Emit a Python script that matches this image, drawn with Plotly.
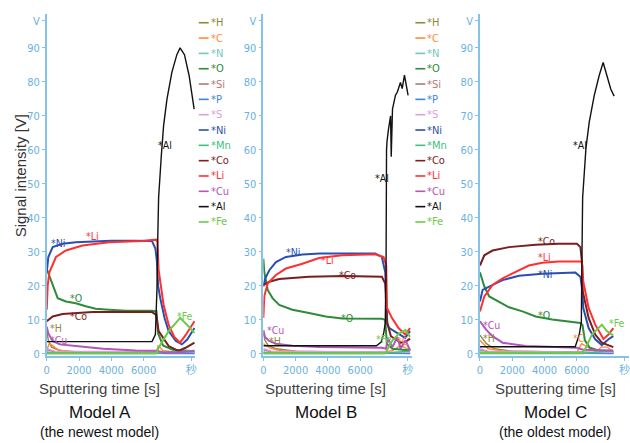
import plotly.graph_objects as go

# ---------------- data ----------------
ELEMENTS = ["H", "C", "N", "O", "Si", "P", "S", "Ni", "Mn", "Co", "Li", "Cu", "Al", "Fe"]
COLORS = ["#8c8a3c", "#ff8a3d", "#74c6c0", "#2e8b3a", "#b07a7a", "#3a86d8", "#d9a0d9",
          "#2b4fb0", "#3dbf80", "#7a1e1e", "#ff3030", "#b455b8", "#111111", "#6cc94a"]
X_TICKS = [0, 2000, 4000, 6000, 8950]
X_TICKTEXT = ["0", "2000", "4000", "6000", "秒"]
Y_TICKS = [0, 10, 20, 30, 40, 50, 60, 70, 80, 90, 98]
Y_TICKTEXT = ["0", "10", "20", "30", "40", "50", "60", "70", "80", "90", "V"]
MODELS = ["Model A", "Model B", "Model C"]
SUBTITLES = ["(the newest model)", "", "(the oldest model)"]

# ---- Model A ----
A_H_T = [0, 100, 300, 800, 2000, 6800, 9150]
A_H_V = [7, 4, 2, 1, 0.6, 0.5, 0.3]
A_C_T = [0, 150, 350, 700, 1500, 6800, 6900, 7200, 8000, 9150]
A_C_V = [1, 3, 2.5, 1.2, 0.6, 0.5, 2.5, 1, 0.5, 0.4]
A_MINOR_T = [0, 500, 6800, 7500, 9150]
A_N_V = [0.6, 0.3, 0.3, 0.2, 0.2]
A_SI_V = [1.2, 0.6, 0.5, 0.3, 0.3]
A_P_V = [0.4, 0.2, 0.2, 0.1, 0.1]
A_S_V = [1.5, 0.8, 0.6, 0.4, 0.5]
A_MN_V = [0.1, 0.1, 0.1, 0.6, 1.0]
A_O_T = [0, 370, 680, 1190, 1800, 2420, 3030, 3860, 4880, 6520, 6800, 6900, 7200, 7800, 9150]
A_O_V = [25, 20.3, 16.4, 15.4, 14.9, 14.0, 13.3, 13.0, 12.7, 12.7, 12.5, 6, 2.5, 1.2, 0.8]
A_NI_T = [0, 100, 370, 985, 1800, 2830, 4000, 5500, 6520, 6730, 6830, 6900, 7030, 7300, 7550, 8000, 8370, 8700, 9150]
A_NI_V = [24, 28.5, 31.4, 32.4, 32.8, 33.1, 33.3, 33.3, 33.2, 31, 27, 20, 16.4, 10.5, 6.7, 3.8, 2.8, 4.2, 7.6]
A_CO_T = [0, 370, 985, 2830, 6520, 6780, 6930, 7550, 8160, 8600, 9150]
A_CO_V = [9.6, 11, 11.7, 12.3, 12.3, 11.5, 6.7, 2.3, 0.9, 1.8, 3.3]
A_LI_T = [0, 60, 165, 575, 1190, 2215, 3860, 5900, 6780, 6850, 6900, 6930, 7240, 7550, 7900, 8260, 8600, 9150]
A_LI_V = [13, 20, 24, 28.5, 30.4, 31.9, 32.8, 33.2, 33.6, 33, 28, 24.6, 14.4, 8.6, 5, 3.3, 5.5, 9.6]
A_CU_T = [0, 100, 370, 800, 1800, 3500, 5500, 6800, 7200, 8000, 9150]
A_CU_V = [8, 6, 3.8, 2.8, 2.3, 1.5, 1.0, 0.9, 0.5, 0.4, 0.8]
A_AL_T = [0, 6520, 6730, 6830, 6880, 6930, 7100, 7240, 7450, 7750, 8060, 8260, 8530, 8820, 9130]
A_AL_V = [3.6, 3.6, 5.7, 19.3, 35, 46, 58.5, 67.2, 75, 82.8, 88, 90, 88, 81.8, 72]
A_FE_T = [0, 6800, 6930, 7550, 8160, 8260, 8700, 9150]
A_FE_V = [0.2, 0.2, 1.8, 6.7, 10, 10.6, 8.5, 6.2]

# ---- Model B ----
B_H_T = [0, 100, 300, 800, 2000, 7340, 9090]
B_H_V = [6, 4, 2.5, 1.5, 0.8, 0.5, 0.3]
B_C_T = [0, 150, 400, 1000, 2500, 7500, 8000, 8500, 9090]
B_C_V = [3, 2.5, 1.8, 1, 0.6, 0.5, 1, 2.5, 1]
B_MINOR_T = [0, 500, 7500, 8200, 9090]
B_N_V = [0.6, 0.3, 0.3, 0.2, 0.2]
B_SI_V = [1.2, 0.6, 0.5, 0.3, 0.3]
B_P_V = [0.4, 0.2, 0.2, 0.1, 0.1]
B_S_V = [1.5, 0.8, 0.6, 0.4, 0.5]
B_MN_V = [0.1, 0.1, 0.1, 0.5, 0.8]
B_O_T = [0, 60, 270, 570, 985, 1800, 2830, 3860, 4880, 6000, 7340, 7550, 7650, 8000, 9090]
B_O_V = [28, 24, 18.8, 16.4, 14.4, 13, 12, 11, 10.4, 10.3, 10.3, 10, 3, 1.5, 1]
B_NI_T = [0, 100, 370, 780, 1400, 2420, 3500, 5000, 6930, 7340, 7550, 7620, 7680, 7800, 8370, 8780, 9090]
B_NI_V = [19.8, 22, 24.6, 27, 28.5, 29.2, 29.5, 29.5, 29.5, 28.5, 24, 15, 8.7, 7.6, 5.8, 4.7, 6.7]
B_CO_T = [0, 370, 985, 2830, 5000, 7340, 7550, 7650, 7900, 8500, 8780, 9090]
B_CO_V = [20.3, 21.2, 22, 22.7, 22.9, 22.7, 20.7, 9.6, 5.2, 3.3, 3.5, 4.5]
B_LI_T = [0, 60, 270, 780, 1400, 2420, 3450, 4880, 6930, 7450, 7610, 7660, 7960, 8370, 8780, 9090]
B_LI_V = [10.6, 17, 20.7, 23.2, 25.1, 26.5, 28.2, 29, 29.3, 28.5, 26, 13.5, 10.6, 7.6, 5.7, 7.6]
B_CU_T = [0, 100, 370, 780, 1800, 3500, 7340, 7600, 7700, 8000, 8300, 8500, 8800, 9090]
B_CU_V = [7, 5, 3.8, 3, 2.4, 2, 1.8, 1.5, 4.5, 2, 5, 1.5, 4, 1]
B_AL_T = [0, 7000, 7300, 7450, 7550, 7600, 7630, 7660, 7750, 7880, 7920, 8000, 8180, 8300, 8490, 8600, 8740, 8850, 8965]
B_AL_V = [2.4, 2.4, 3.5, 6, 9, 25, 60, 62.5, 66, 70, 58, 72, 76, 77, 79.8, 78, 82, 79, 76]
B_FE_T = [0, 7550, 7700, 8000, 8400, 8800, 9090]
B_FE_V = [0.2, 0.2, 1.5, 4, 6, 7, 5]

# ---- Model C ----
C_H_T = [0, 150, 400, 900, 2000, 6000, 8260]
C_H_V = [5.5, 4.5, 3, 1.5, 0.8, 0.5, 0.3]
C_C_T = [0, 200, 500, 1500, 6000, 6300, 7200, 7500, 7900, 8260]
C_C_V = [4, 3, 1.5, 0.8, 0.5, 3, 0.5, 2, 2, 0.5]
C_MINOR_T = [0, 500, 6300, 7200, 8260]
C_N_V = [0.6, 0.3, 0.3, 0.2, 0.2]
C_SI_V = [1.2, 0.6, 0.5, 0.3, 0.3]
C_P_V = [0.4, 0.2, 0.2, 0.1, 0.1]
C_S_V = [1.5, 0.8, 0.6, 0.4, 0.5]
C_MN_V = [0.1, 0.1, 0.1, 0.5, 0.8]
C_O_T = [0, 270, 575, 1190, 1800, 2630, 3450, 4470, 5290, 6220, 6350, 6500, 6800, 7500, 8260]
C_O_V = [24, 19.8, 16.9, 15.4, 13.7, 12.5, 11, 10.1, 9.6, 9.1, 8.5, 4, 1.8, 0.8, 0.5]
C_NI_T = [0, 165, 575, 1400, 2420, 3860, 5910, 6220, 6320, 6400, 6730, 7140, 7550, 7960, 8260]
C_NI_V = [15.4, 18.8, 19.8, 21.7, 23, 23.6, 23.9, 22.7, 19.3, 13.5, 7.6, 4.3, 2.6, 4.3, 5.2]
C_CO_T = [0, 270, 780, 1800, 3450, 4880, 6010, 6220, 6320, 6370, 6730, 7140, 7550, 8260]
C_CO_V = [26, 29, 30.4, 31.4, 32.1, 32.4, 32.4, 31.4, 27, 18.3, 10.6, 5.7, 3.3, 2]
C_LI_T = [0, 270, 780, 1400, 2215, 3030, 3860, 4880, 6280, 6340, 6400, 6730, 7140, 7550, 7650, 7960, 8260]
C_LI_V = [12.5, 16.9, 20.3, 22.2, 24.1, 26, 26.8, 27.2, 27.2, 26, 21.2, 13.5, 8.6, 5.2, 4.4, 5.7, 7.6]
C_CU_T = [0, 370, 780, 1400, 2830, 6000, 6400, 7500, 8260]
C_CU_V = [9.6, 7.2, 5.2, 3.3, 2.3, 1.8, 1.2, 1, 1]
C_AL_T = [0, 5900, 6150, 6280, 6320, 6360, 6565, 6770, 7080, 7380, 7630, 7900, 8100, 8310]
C_AL_V = [2.1, 2.1, 5.7, 9.4, 30, 46, 60.5, 68.2, 76, 81.8, 85.7, 80.8, 77.9, 75.8]
C_FE_T = [0, 6300, 6560, 6935, 7550, 7860, 8165, 8260]
C_FE_V = [0.3, 0.3, 1.8, 5.7, 8.6, 6.7, 5.7, 5.5]

# inline labels: (element, time, value)
A_LABELS = [("Ni", 123, 32.6), ("Li", 2320, 34.8), ("O", 1290, 16.4), ("Co", 1290, 11),
            ("Fe", 7960, 11), ("H", 60, 7.6), ("Cu", 60, 4.0), ("Al", 6770, 61.4)]
B_LABELS = [("Ni", 1290, 30.1), ("Li", 3450, 27.5), ("Co", 4570, 23.2), ("O", 4680, 10.5),
            ("Cu", 120, 7.0), ("H", 250, 3.7), ("Fe", 6830, 4.4), ("C", 8180, 3.8), ("Al", 6810, 51.7)]
C_LABELS = [("Co", 3450, 33.3), ("Li", 3450, 28.5), ("Ni", 3450, 23.6), ("O", 3450, 11.5),
            ("Cu", 60, 8.6), ("H", 60, 4.7), ("Fe", 7860, 9.1), ("C", 5660, 4.7), ("Al", 5640, 61.4)]

# ---------------- build ----------------
W, H = 630, 443
NARROW = "DejaVu Sans Condensed, Liberation Sans Narrow, Noto Sans CJK JP, sans-serif"
SANS = "Liberation Sans, Arial, Noto Sans CJK JP, sans-serif"
AXIS_COLOR = "#84c2e8"
TICK_COLOR = "#6ab2de"

panels = [
    {"H": (A_H_T, A_H_V), "C": (A_C_T, A_C_V), "N": (A_MINOR_T, A_N_V), "O": (A_O_T, A_O_V),
     "Si": (A_MINOR_T, A_SI_V), "P": (A_MINOR_T, A_P_V), "S": (A_MINOR_T, A_S_V),
     "Ni": (A_NI_T, A_NI_V), "Mn": (A_MINOR_T, A_MN_V), "Co": (A_CO_T, A_CO_V),
     "Li": (A_LI_T, A_LI_V), "Cu": (A_CU_T, A_CU_V), "Al": (A_AL_T, A_AL_V), "Fe": (A_FE_T, A_FE_V)},
    {"H": (B_H_T, B_H_V), "C": (B_C_T, B_C_V), "N": (B_MINOR_T, B_N_V), "O": (B_O_T, B_O_V),
     "Si": (B_MINOR_T, B_SI_V), "P": (B_MINOR_T, B_P_V), "S": (B_MINOR_T, B_S_V),
     "Ni": (B_NI_T, B_NI_V), "Mn": (B_MINOR_T, B_MN_V), "Co": (B_CO_T, B_CO_V),
     "Li": (B_LI_T, B_LI_V), "Cu": (B_CU_T, B_CU_V), "Al": (B_AL_T, B_AL_V), "Fe": (B_FE_T, B_FE_V)},
    {"H": (C_H_T, C_H_V), "C": (C_C_T, C_C_V), "N": (C_MINOR_T, C_N_V), "O": (C_O_T, C_O_V),
     "Si": (C_MINOR_T, C_SI_V), "P": (C_MINOR_T, C_P_V), "S": (C_MINOR_T, C_S_V),
     "Ni": (C_NI_T, C_NI_V), "Mn": (C_MINOR_T, C_MN_V), "Co": (C_CO_T, C_CO_V),
     "Li": (C_LI_T, C_LI_V), "Cu": (C_CU_T, C_CU_V), "Al": (C_AL_T, C_AL_V), "Fe": (C_FE_T, C_FE_V)},
]
labels = [A_LABELS, B_LABELS, C_LABELS]
color_of = dict(zip(ELEMENTS, COLORS))

x_px = [(44, 193.5), (262, 411.5), (480, 629.5)]   # plot area left/right in pixels
y_px = (14, 360)                                   # plot area top/bottom in pixels
title_cx = [97.5, 325, 556]
legend_px = [197, 415]                             # legend line start (panels A, B)

fig = go.Figure()
annotations = []
shapes = []

for i, data in enumerate(panels):
    xa = "x" if i == 0 else f"x{i+1}"
    ya = "y" if i == 0 else f"y{i+1}"
    for el in ELEMENTS:
        t, v = data[el]
        wid = 2.0 if el in ("Ni", "Li", "Co", "O", "Fe", "Cu") else 1.4
        fig.add_trace(go.Scatter(x=t, y=v, mode="lines", xaxis=xa, yaxis=ya,
                                 line=dict(color=color_of[el], width=wid), showlegend=False,
                                 name=el))
    for el, t, v in labels[i]:
        annotations.append(dict(x=t, y=v, xref=xa, yref=ya, text="*" + el, showarrow=False,
                                xanchor="left", yanchor="middle",
                                font=dict(family=NARROW, size=10.5, color=color_of[el])))
    l, r = x_px[i]
    axis_common = dict(showline=True, linecolor=AXIS_COLOR, linewidth=1.5, showgrid=False,
                       zeroline=False, ticks="outside", ticklen=3, tickcolor=AXIS_COLOR,
                       tickfont=dict(family=NARROW, size=11, color=TICK_COLOR))
    fig.update_layout(**{
        ("xaxis" if i == 0 else f"xaxis{i+1}"): dict(
            domain=[l / W, r / W], range=[0, 9200], anchor=ya, tickmode="array",
            tickvals=X_TICKS, ticktext=X_TICKTEXT, **axis_common),
        ("yaxis" if i == 0 else f"yaxis{i+1}"): dict(
            domain=[1 - y_px[1] / H, 1 - y_px[0] / H], range=[-0.6, 100], anchor=xa,
            tickmode="array", tickvals=Y_TICKS, ticktext=Y_TICKTEXT, **axis_common),
    })
    cx = title_cx[i]
    annotations.append(dict(x=cx / W, y=1 - 393 / H, xref="paper", yref="paper",
                            text="Sputtering time [s]", showarrow=False,
                            xanchor="center", yanchor="middle",
                            font=dict(family=SANS, size=15, color="#444444")))
    annotations.append(dict(x=cx / W, y=1 - 417 / H, xref="paper", yref="paper",
                            text=MODELS[i], showarrow=False,
                            xanchor="center", yanchor="middle",
                            font=dict(family=SANS, size=17, color="#111111")))
    if SUBTITLES[i]:
        annotations.append(dict(x=cx / W, y=1 - 437 / H, xref="paper", yref="paper",
                                text=SUBTITLES[i], showarrow=False,
                                xanchor="center", yanchor="middle",
                                font=dict(family=SANS, size=14, color="#111111")))

# legends (panels A and B)
for lx in legend_px:
    for k, el in enumerate(ELEMENTS):
        yy = 1 - (23 + 15.5 * k) / H
        shapes.append(dict(type="line", xref="paper", yref="paper", x0=lx / W, x1=(lx + 10) / W,
                           y0=yy, y1=yy, line=dict(color=color_of[el], width=1.6)))
        annotations.append(dict(x=(lx + 10) / W, y=yy, xref="paper", yref="paper",
                                text="*" + el, showarrow=False, xanchor="left", yanchor="middle",
                                font=dict(family=NARROW, size=11, color=color_of[el])))

annotations.append(dict(x=18.5 / W, y=1 - 178 / H, xref="paper", yref="paper",
                        text="Signal intensity [V]", showarrow=False, textangle=-90,
                        xanchor="center", yanchor="middle",
                        font=dict(family=SANS, size=15, color="#333333")))

fig.update_layout(width=W, height=H, margin=dict(l=0, r=0, t=0, b=0),
                  paper_bgcolor="white", plot_bgcolor="white", showlegend=False,
                  annotations=annotations, shapes=shapes)

fig.write_html("out.html")
